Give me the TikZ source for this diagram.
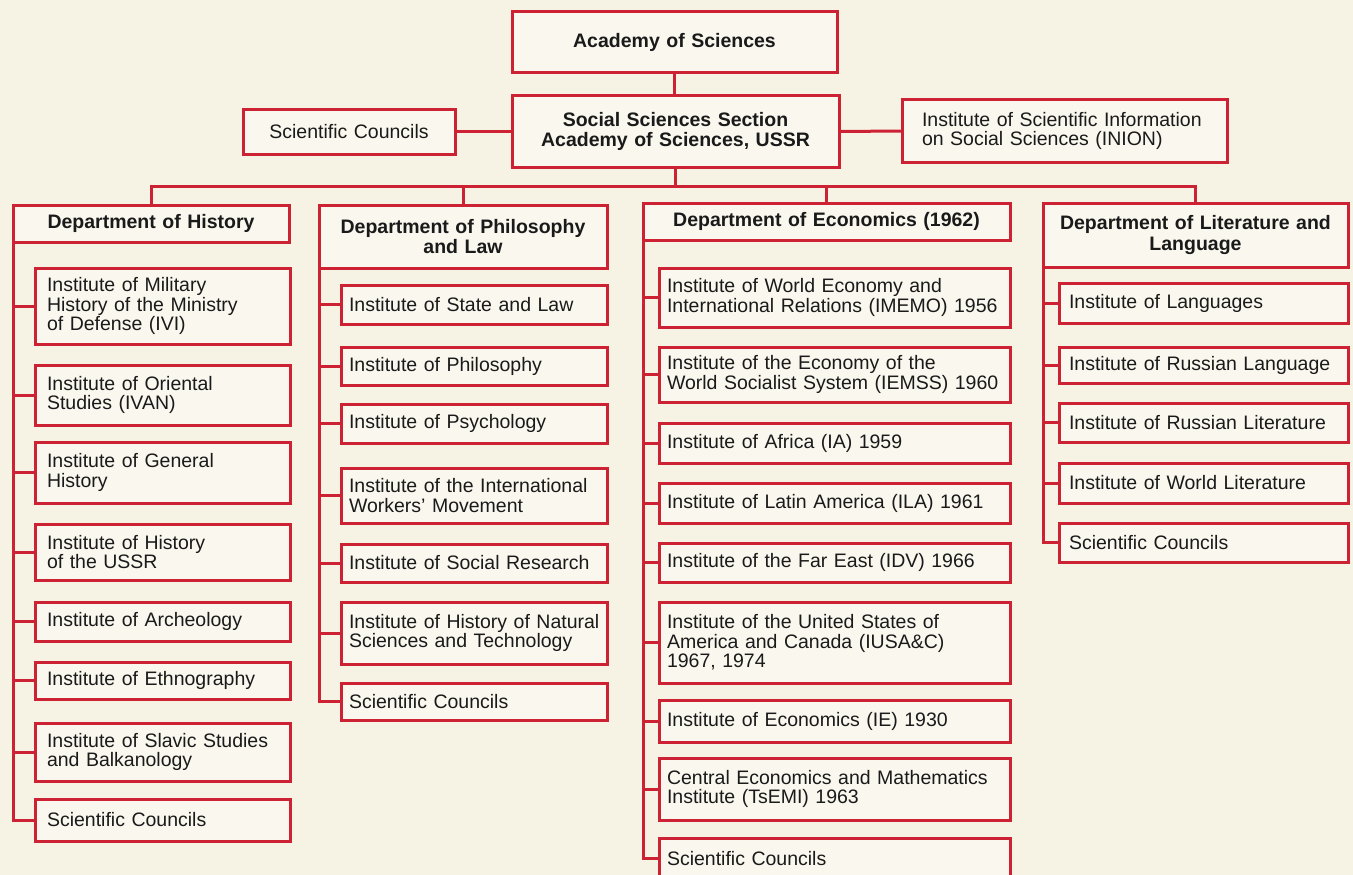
\documentclass[tikz,border=0pt]{standalone}
\usepackage{fontspec}
\setmainfont{Liberation Sans}
\definecolor{bgc}{HTML}{F7F3E4}
\definecolor{boxfill}{HTML}{FAF7EE}
\definecolor{redl}{HTML}{CC2233}
\definecolor{txt}{HTML}{1A1A1A}
\newcommand\padx{8}
\newcommand\mkbox[7]{%
  \pgfmathsetmacro\bw{#5-#3}%
  \pgfmathsetmacro\bh{#6-#4}%
  \pgfmathsetmacro\tw{#5-#3-2*\padx}%
  \node[#2, anchor=north west, minimum width=\bw pt, minimum height=\bh pt, inner xsep=\padx pt, text width=\tw pt] (#1) at (#3,#4) {#7};}
\tikzset{
  box/.style={draw=redl, line width=3pt, fill=boxfill, text=txt, inner ysep=0pt, outer sep=0pt,
    font=\fontsize{19.5}{19.5}\selectfont},
  item/.style={box, align=left},
  mid/.style={box, align=center},
  head/.style={box, align=center, font=\bfseries\fontsize{19.5}{20.5}\selectfont},
  link/.style={draw=redl, line width=3pt}
}
\begin{document}
\begin{tikzpicture}[x=1pt, y=-1pt]
\fill[bgc] (0,0) rectangle (1353,875);
\useasboundingbox (0,0) rectangle (1353,875);
% top
\mkbox{ac}{head}{512}{12}{837}{73}{Academy of Sciences}
\mkbox{ss}{head}{512}{96}{839}{167}{Social Sciences Section\\Academy of Sciences, USSR}
\mkbox{sc0}{mid}{243}{109}{455}{154}{Scientific Councils}
\renewcommand\padx{20}
\mkbox{inion}{item}{902}{100}{1227}{162}{\mbox{Institute of Scientific Information}\\\mbox{on Social Sciences (INION)}}
\renewcommand\padx{8}
% departments
\mkbox{dH}{head}{13}{205}{289}{242}{Department of History}
\mkbox{dP}{head}{319}{205}{607}{268}{Department of Philosophy\\and Law}
\mkbox{dE}{head}{643}{203}{1010}{240}{Department of Economics (1962)}
\mkbox{dL}{head}{1043}{203}{1348}{267}{Department of Literature and\\Language}
% history
\renewcommand\padx{12}
\mkbox{h1}{item}{35}{268}{290}{344}{\mbox{Institute of Military}\\\mbox{History of the Ministry}\\\mbox{of Defense (IVI)}}
\mkbox{h2}{item}{35}{365}{290}{425}{\mbox{Institute of Oriental}\\\mbox{Studies (IVAN)}}
\mkbox{h3}{item}{35}{442}{290}{503}{\mbox{Institute of General}\\\mbox{History}}
\mkbox{h4}{item}{35}{524}{290}{580}{\mbox{Institute of History}\\\mbox{of the USSR}}
\mkbox{h5}{item}{35}{602}{290}{641}{\mbox{Institute of Archeology}}
\mkbox{h6}{item}{35}{662}{290}{699}{\mbox{Institute of Ethnography}}
\mkbox{h7}{item}{35}{723}{290}{781}{\mbox{Institute of Slavic Studies}\\\mbox{and Balkanology}}
\mkbox{h8}{item}{35}{799}{290}{841}{\mbox{Scientific Councils}}
% philosophy
\renewcommand\padx{8}
\mkbox{p1}{item}{341}{285}{607}{324}{\mbox{Institute of State and Law}}
\mkbox{p2}{item}{341}{347}{607}{385}{\mbox{Institute of Philosophy}}
\mkbox{p3}{item}{341}{404}{607}{443}{\mbox{Institute of Psychology}}
\mkbox{p4}{item}{341}{468}{607}{523}{\mbox{Institute of the International}\\\mbox{Workers' Movement}}
\mkbox{p5}{item}{341}{544}{607}{582}{\mbox{Institute of Social Research}}
\mkbox{p6}{item}{341}{602}{607}{664}{\mbox{Institute of History of Natural}\\\mbox{Sciences and Technology}}
\mkbox{p7}{item}{341}{683}{607}{720}{\mbox{Scientific Councils}}
% economics
\mkbox{e1}{item}{659}{268}{1010}{327}{\mbox{Institute of World Economy and}\\\mbox{International Relations (IMEMO) 1956}}
\mkbox{e2}{item}{659}{347}{1010}{402}{\mbox{Institute of the Economy of the}\\\mbox{World Socialist System (IEMSS) 1960}}
\mkbox{e3}{item}{659}{423}{1010}{463}{\mbox{Institute of Africa (IA) 1959}}
\mkbox{e4}{item}{659}{483}{1010}{523}{\mbox{Institute of Latin America (ILA) 1961}}
\mkbox{e5}{item}{659}{543}{1010}{582}{\mbox{Institute of the Far East (IDV) 1966}}
\mkbox{e6}{item}{659}{602}{1010}{683}{\mbox{Institute of the United States of}\\\mbox{America and Canada (IUSA\&C)}\\\mbox{1967, 1974}}
\mkbox{e7}{item}{659}{700}{1010}{742}{\mbox{Institute of Economics (IE) 1930}}
\mkbox{e8}{item}{659}{758}{1010}{820}{\mbox{Central Economics and Mathematics}\\\mbox{Institute (TsEMI) 1963}}
\mkbox{e9}{item}{659}{838}{1010}{879}{\mbox{Scientific Councils}}
% literature
\renewcommand\padx{10}
\mkbox{l1}{item}{1059}{283}{1348}{323}{\mbox{Institute of Languages}}
\mkbox{l2}{item}{1059}{347}{1348}{383}{\mbox{Institute of Russian Language}}
\mkbox{l3}{item}{1059}{403}{1348}{442}{\mbox{Institute of Russian Literature}}
\mkbox{l4}{item}{1059}{463}{1348}{503}{\mbox{Institute of World Literature}}
\mkbox{l5}{item}{1059}{523}{1348}{562}{\mbox{Scientific Councils}}
% connectors, top
\draw[link] (ac.south) -- (ac.south |- ss.north);
\draw[link] (sc0.east) -- (ss.west);
\draw[link] (ss.east) -- (inion.west);
\coordinate (bus) at (675,186);
\draw[link] (ss.south) -- (ss.south |- bus);
\draw[link] (dH.north) -- (dH.north |- bus) -- (dL.north |- bus) -- (dL.north);
\draw[link] (dP.north) -- (dP.north |- bus);
\draw[link] (dE.north) -- (dE.north |- bus);
% spines
\draw[link] (dH.south west) -- (dH.south west |- h8.west) -- (h8.west);
\foreach \i in {1,...,7} {\draw[link] (dH.south west |- h\i.west) -- (h\i.west);}
\draw[link] (dP.south west) -- (dP.south west |- p7.west) -- (p7.west);
\foreach \i in {1,...,6} {\draw[link] (dP.south west |- p\i.west) -- (p\i.west);}
\draw[link] (dE.south west) -- (dE.south west |- e9.west) -- (e9.west);
\foreach \i in {1,...,8} {\draw[link] (dE.south west |- e\i.west) -- (e\i.west);}
\draw[link] (dL.south west) -- (dL.south west |- l5.west) -- (l5.west);
\foreach \i in {1,...,4} {\draw[link] (dL.south west |- l\i.west) -- (l\i.west);}
\end{tikzpicture}
\end{document}
